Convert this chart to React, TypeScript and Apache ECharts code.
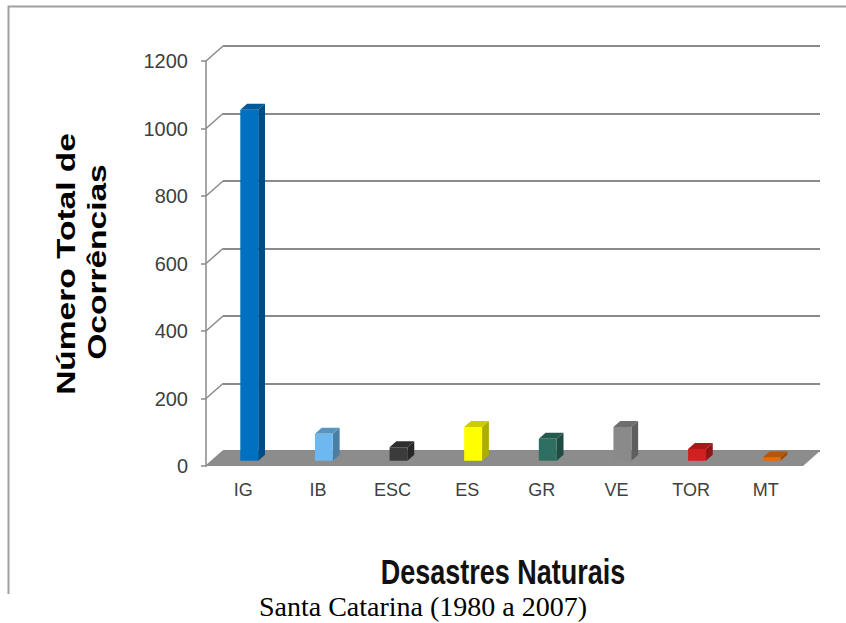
import React, { useEffect, useRef } from "react";
import * as echarts from "echarts";

const categories = ["IG", "IB", "ESC", "ES", "GR", "VE", "TOR", "MT"];
const occurrences = [1040, 80, 40, 100, 65, 100, 35, 10];
const barColors = ["#0070C0", "#6DB9EF", "#3B3B3B", "#FFFF00", "#2F6F62", "#8A8A8A", "#D22020", "#E46C0A"];
const yTicks = [0, 200, 400, 600, 800, 1000, 1200];
const yTitleLines = ["Número Total de", "Ocorrências"];
const xTitle = "Desastres Naturais";
const caption = "Santa Catarina (1980 a 2007)";

const DX = 17;
const DY = -15;
const F1 = 0.35;
const F2 = 0.75;

function shade(hex: string, f: number): string {
  const n = parseInt(hex.slice(1), 16);
  const r = Math.round(((n >> 16) & 255) * f);
  const g = Math.round(((n >> 8) & 255) * f);
  const b = Math.round((n & 255) * f);
  return `rgb(${r},${g},${b})`;
}

export default function App() {
  const ref = useRef<HTMLDivElement>(null);
  useEffect(() => {
    document.body.style.margin = "0";
    const chart = echarts.init(ref.current!, null, { renderer: "svg" });
    const gridW = 597;
    const gridH = 405;
    const gl = 206;
    const gt = 61;
    const axisGray = "#8A8A8A";
    chart.setOption({
      animation: false,
      backgroundColor: "#FFFFFF",
      grid: [
        { left: gl, top: gt, width: gridW, height: gridH, outerBoundsMode: "none" },
        { left: gl + DX, top: gt + DY, width: gridW, height: gridH, outerBoundsMode: "none" },
      ],
      xAxis: [
        {
          type: "category",
          gridIndex: 0,
          data: categories,
          axisLine: { show: false },
          axisTick: { show: false },
          axisLabel: { fontSize: 18, color: "#404040", margin: 15, fontFamily: "Liberation Sans, Arial, sans-serif" },
        },
        { type: "category", gridIndex: 1, data: categories, show: false },
      ],
      yAxis: [
        {
          type: "value",
          gridIndex: 0,
          min: 0,
          max: 1200,
          interval: 200,
          axisLine: { show: true, lineStyle: { color: axisGray, width: 1.5 } },
          axisTick: { show: true, length: 5, lineStyle: { color: axisGray, width: 1.5 } },
          axisLabel: {
            fontSize: 20,
            color: "#404040",
            margin: 18,
            fontFamily: "Liberation Sans, Arial, sans-serif",
            formatter: (v: number) => String(v),
          },
          splitLine: { show: false },
        },
        {
          type: "value",
          gridIndex: 1,
          min: 0,
          max: 1200,
          interval: 200,
          axisLine: { show: false },
          axisTick: { show: false },
          axisLabel: { show: false },
          splitLine: { show: true, lineStyle: { color: axisGray, width: 2 } },
        },
      ],
      series: [
        {
          type: "custom",
          name: "floor",
          xAxisIndex: 0,
          yAxisIndex: 0,
          z: 1,
          data: [[0, 0]],
          renderItem: (params: any, api: any) => {
            const cs = params.coordSys;
            const y0 = api.coord([0, 0])[1];
            const xl = cs.x;
            const xr = cs.x + cs.width;
            return {
              type: "polygon",
              shape: { points: [[xl, y0], [xr, y0], [xr + DX, y0 + DY], [xl + DX, y0 + DY]] },
              style: { fill: "#8C8C8C" },
            };
          },
        },
        {
          type: "custom",
          name: "wall",
          xAxisIndex: 0,
          yAxisIndex: 0,
          z: 1,
          data: yTicks.map((v) => [0, v]),
          renderItem: (params: any, api: any) => {
            const cs = params.coordSys;
            const y = api.coord([0, api.value(1)])[1];
            return {
              type: "line",
              shape: { x1: cs.x, y1: y, x2: cs.x + DX, y2: y + DY },
              style: { stroke: axisGray, lineWidth: 1.5 },
            };
          },
        },
        {
          type: "custom",
          name: "Ocorrências",
          xAxisIndex: 0,
          yAxisIndex: 0,
          z: 3,
          data: categories.map((c, i) => [i, occurrences[i]]),
          renderItem: (params: any, api: any) => {
            const i = api.value(0);
            const v = api.value(1);
            const top = api.coord([i, v]);
            const base = api.coord([i, 0]);
            const band = api.size([1, 0])[0];
            const w = band * 0.24;
            const cx = top[0];
            const x0 = cx - w / 2 + DX * F1;
            const x1 = cx + w / 2 + DX * F1;
            const yt = top[1] + DY * F1;
            const yb = base[1] + DY * F1;
            const ex = DX * (F2 - F1);
            const ey = DY * (F2 - F1);
            const color = barColors[params.dataIndex];
            return {
              type: "group",
              children: [
                {
                  type: "polygon",
                  shape: { points: [[x1, yt], [x1 + ex, yt + ey], [x1 + ex, yb + ey], [x1, yb]] },
                  style: { fill: shade(color, 0.68) },
                },
                {
                  type: "polygon",
                  shape: { points: [[x0, yt], [x1, yt], [x1 + ex, yt + ey], [x0 + ex, yt + ey]] },
                  style: { fill: shade(color, 0.8) },
                },
                {
                  type: "rect",
                  shape: { x: x0, y: yt, width: w, height: yb - yt },
                  style: { fill: color },
                },
              ],
            };
          },
        },
      ],
      graphic: [
        {
          type: "polyline",
          shape: { points: [[8.5, 594], [8.5, 6.5], [846, 6.5]] },
          style: { stroke: "#A0A0A0", lineWidth: 2, fill: null },
        },
        {
          type: "text",
          x: 66,
          y: 264,
          rotation: Math.PI / 2,
          scaleX: 1.34,
          style: {
            text: yTitleLines[0],
            font: "bold 25px 'Liberation Sans', Arial, sans-serif",
            fill: "#000000",
            align: "center",
            verticalAlign: "middle",
            textAlign: "center",
            textVerticalAlign: "middle",
          },
        },
        {
          type: "text",
          x: 97,
          y: 262,
          rotation: Math.PI / 2,
          scaleX: 1.34,
          style: {
            text: yTitleLines[1],
            font: "bold 25px 'Liberation Sans', Arial, sans-serif",
            fill: "#000000",
            align: "center",
            verticalAlign: "middle",
            textAlign: "center",
            textVerticalAlign: "middle",
          },
        },
        {
          type: "text",
          x: 503,
          y: 572,
          scaleY: 1.3,
          style: {
            text: xTitle,
            font: "bold 27px 'Liberation Sans', Arial, sans-serif",
            fill: "#111111",
            align: "center",
            verticalAlign: "middle",
            textAlign: "center",
            textVerticalAlign: "middle",
          },
        },
        {
          type: "text",
          x: 423,
          y: 606,
          style: {
            text: caption,
            font: "28px 'Liberation Serif', 'Times New Roman', serif",
            fill: "#000000",
            align: "center",
            verticalAlign: "middle",
            textAlign: "center",
            textVerticalAlign: "middle",
          },
        },
      ],
    });
    return () => chart.dispose();
  }, []);
  return <div ref={ref} style={{ width: 846, height: 623 }} />;
}
